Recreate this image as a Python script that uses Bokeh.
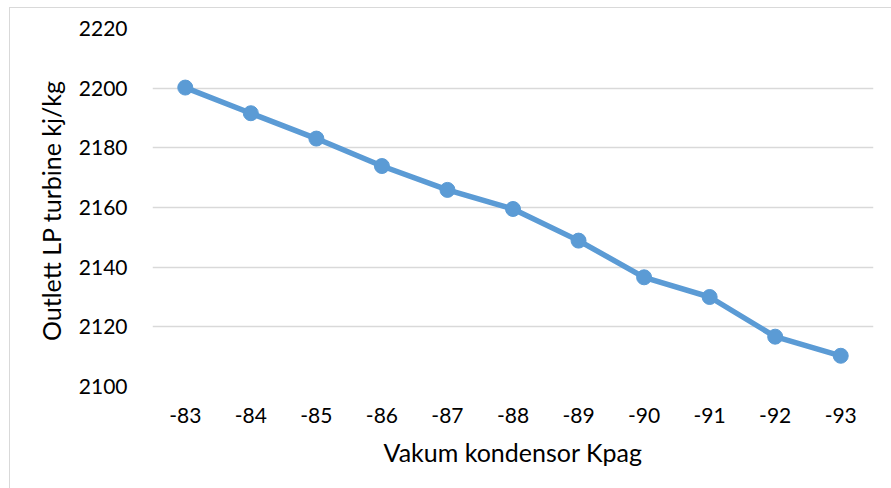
from bokeh.plotting import figure
from bokeh.models import ColumnDataSource, FactorRange, Range1d, FixedTicker
from bokeh.embed import file_html
from bokeh.resources import INLINE

categories = ["-83", "-84", "-85", "-86", "-87", "-88", "-89", "-90", "-91", "-92", "-93"]
values = [2200.2, 2191.6, 2183.1, 2173.9, 2165.9, 2159.5, 2148.9, 2136.6, 2130.0, 2116.7, 2110.3]
y_ticks = [2100, 2120, 2140, 2160, 2180, 2200, 2220]

FONT = "Lato"
BLUE = "#5B9BD5"
GRID = "#D9D9D9"

src = ColumnDataSource(data=dict(x=categories, y=values))

# canvas offset by (9, 7) so that a thin chart-area border shows at left and top
p = figure(width=882, height=481, x_range=FactorRange(*categories), y_range=Range1d(2100, 2220),
           output_backend="svg", toolbar_location=None,
           min_border_left=142, min_border_right=20, min_border_top=20, min_border_bottom=104)
p.margin = (7, 0, 0, 9)
p.styles = {"border-top": "1px solid #D9D9D9", "border-left": "1px solid #D9D9D9",
            "box-sizing": "content-box"}
p.outline_line_color = None
p.background_fill_color = "white"
p.border_fill_color = "white"

p.line("x", "y", source=src, line_color=BLUE, line_width=5.5)
p.scatter("x", "y", source=src, size=15, fill_color=BLUE, line_color=BLUE)

p.xgrid.grid_line_color = None
p.ygrid.grid_line_color = GRID
p.ygrid.grid_line_width = 1.5
p.yaxis.ticker = FixedTicker(ticks=y_ticks)

for ax in (p.xaxis[0], p.yaxis[0]):
    ax.axis_line_color = None
    ax.major_tick_line_color = None
    ax.minor_tick_line_color = None
    ax.major_label_text_font = FONT
    ax.major_label_text_font_size = "21px"
    ax.major_label_text_color = "#000000"
    ax.axis_label_text_font = FONT
    ax.axis_label_text_font_size = "25px"
    ax.axis_label_text_font_style = "normal"
    ax.axis_label_text_color = "#000000"

p.xaxis.axis_label = "Vakum kondensor Kpag"
p.yaxis.axis_label = "Outlett LP turbine  kj/kg"
p.xaxis.major_label_standoff = 15
p.yaxis.major_label_standoff = 19
p.xaxis.axis_label_standoff = 11
p.yaxis.axis_label_standoff = 10

open("out.html", "w").write(file_html(p, INLINE))
